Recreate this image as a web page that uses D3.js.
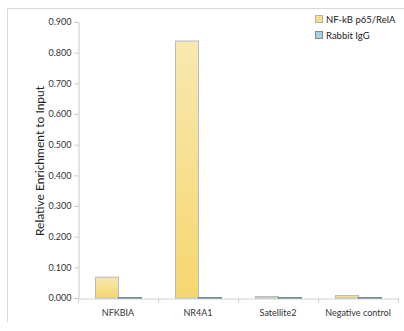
<!DOCTYPE html>
<html><head><meta charset="utf-8">
<script src="https://cdn.jsdelivr.net/npm/d3@7"></script>
<style>body{margin:0;background:#fff}svg{display:block;font-family:Lato,"Open Sans",sans-serif}</style>
</head><body><svg id="c" width="404" height="331"></svg>
<script>
const categories = ["NFKBIA", "NR4A1", "Satellite2", "Negative control"];
const seriesNames = ["NF-kB p65/RelA", "Rabbit IgG"];
const p65Values = [0.068, 0.838, 0.005, 0.008];
const iggValues = [0.001, 0.001, 0.001, 0.001];
const yTicks = [0, 0.1, 0.2, 0.3, 0.4, 0.5, 0.6, 0.7, 0.8, 0.9];

const svg = d3.select("#c");
const m = {l: 78};
const x = d3.scaleBand().domain(categories).range([m.l, 398]).paddingInner(0).paddingOuter(0);
const y = d3.scaleLinear().domain([0, 0.9]).range([298, 22]);

const defs = svg.append("defs");
const g1 = defs.append("linearGradient").attr("id", "gy").attr("x1", 0).attr("y1", 0).attr("x2", 0).attr("y2", 1);
g1.append("stop").attr("offset", 0).attr("stop-color", "#f8e8b0");
g1.append("stop").attr("offset", 1).attr("stop-color", "#f5d76e");
const g2 = defs.append("linearGradient").attr("id", "gb").attr("x1", 0).attr("y1", 0).attr("x2", 0).attr("y2", 1);
g2.append("stop").attr("offset", 0).attr("stop-color", "#cfe3f2");
g2.append("stop").attr("offset", 1).attr("stop-color", "#9cc6e4");

// outer frame (top and left)
svg.append("line").attr("x1", 7.5).attr("x2", 404).attr("y1", 8.5).attr("y2", 8.5).attr("stroke", "#d9d9d9");
svg.append("line").attr("x1", 7.5).attr("x2", 7.5).attr("y1", 8.5).attr("y2", 322).attr("stroke", "#d9d9d9");

// y axis
const ya = svg.append("g").attr("transform", `translate(${m.l + 0.5},0)`)
  .call(d3.axisLeft(y).tickValues(yTicks).tickFormat(d3.format(".3f")).tickSize(4).tickPadding(3));
ya.select(".domain").attr("stroke", "#c8c8c8");
ya.selectAll(".tick line").attr("stroke", "#c8c8c8");
ya.selectAll("text").attr("font-size", 9).attr("fill", "#333").attr("font-family", "Lato, sans-serif");

// x axis
const xa = svg.append("g").attr("transform", `translate(0,${298.5})`)
  .call(d3.axisBottom(x).tickSize(0).tickPadding(11));
xa.select(".domain").attr("stroke", "#d0d0d0");
xa.selectAll("text").attr("font-size", 9).attr("fill", "#333").attr("font-family", "Lato, sans-serif");
const bounds = categories.map(c => x(c)).concat([x.range()[1]]);
svg.append("g").selectAll("line").data(bounds).join("line")
  .attr("x1", d => d + 0.5).attr("x2", d => d + 0.5).attr("y1", 298).attr("y2", 303)
  .attr("stroke", "#d0d0d0");

// bars
const bw = 23, pad = 17;
svg.append("g").selectAll("rect").data(categories).join("rect")
  .attr("x", c => x(c) + pad + 0.5).attr("width", bw)
  .attr("y", (c, i) => y(p65Values[i])).attr("height", (c, i) => y(0) - y(p65Values[i]))
  .attr("fill", "url(#gy)").attr("stroke", "#b0bccb").attr("stroke-width", 1);
svg.append("g").selectAll("rect").data(categories).join("rect")
  .attr("x", c => x(c) + pad + bw + 0.5).attr("width", bw)
  .attr("y", (c, i) => y(iggValues[i])).attr("height", (c, i) => y(0) - y(iggValues[i]))
  .attr("fill", "url(#gb)").attr("stroke", "#5b6b78").attr("stroke-width", 1);

// y label
svg.append("text").attr("transform", "translate(44,161) rotate(-90)")
  .attr("text-anchor", "middle").attr("font-size", 12).attr("fill", "#222")
  .text("Relative Enrichment to Input");

// legend
const lg = svg.append("g");
const sw = [["#f7df8a", "#b0b0b0"], ["#a8cfe8", "#8a8a8a"]];
seriesNames.forEach((s, i) => {
  lg.append("rect").attr("x", 315.5).attr("y", 15.5 + i * 16).attr("width", 7).attr("height", 7)
    .attr("fill", sw[i][0]).attr("stroke", sw[i][1]);
  lg.append("text").attr("x", 326).attr("y", 22.5 + i * 16).attr("font-size", 9.5).attr("fill", "#222").text(s);
});
</script></body></html>
